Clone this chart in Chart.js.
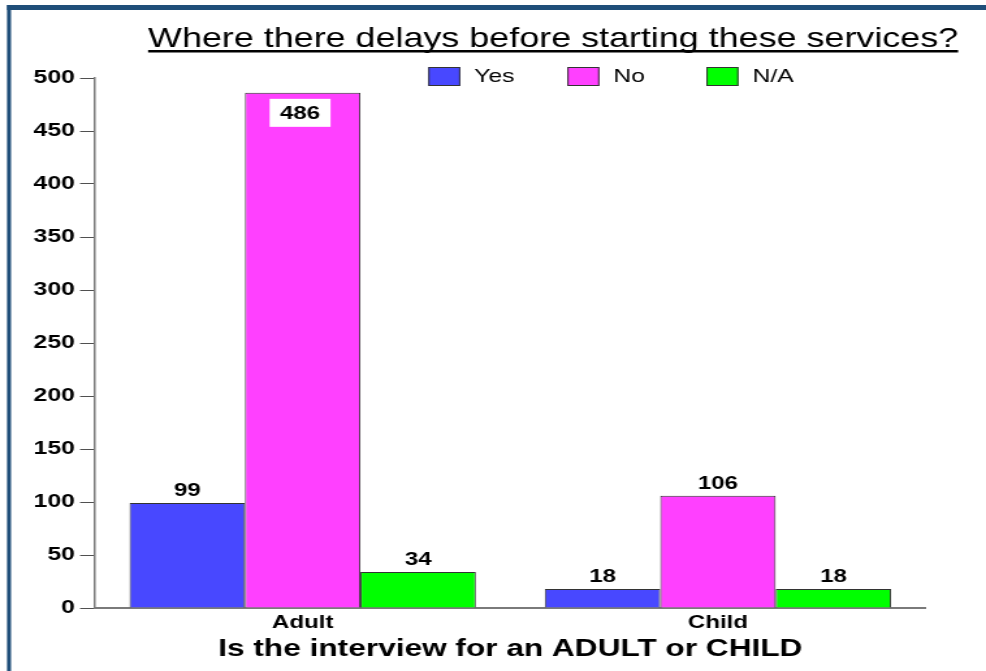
<!DOCTYPE html>
<html>
<head>
<meta charset="utf-8">
<script src="https://cdn.jsdelivr.net/npm/chart.js@4/dist/chart.umd.min.js"></script>
<style>
  html, body { margin: 0; padding: 0; background: #ffffff; }
  #wrap { position: relative; width: 986px; height: 671px; overflow: hidden; }
  #c { display: block; width: 986px; height: 671px; }
</style>
</head>
<body>
<div id="wrap"><canvas id="c" width="758" height="671" style="width:986px;height:671px"></canvas></div>
<script>
// ---- data ----
const categories = ['Adult', 'Child'];
const seriesNames = ['Yes', 'No', 'N/A'];
const yesValues = [99, 18];
const noValues = [486, 106];
const naValues = [34, 18];
const yTicks = [0, 50, 100, 150, 200, 250, 300, 350, 400, 450, 500];
const chartTitle = 'Where there delays before starting these services?';
const xTitle = 'Is the interview for an ADULT or CHILD';

// ---- styling ----
const S = 1.3; // horizontal stretch of the reference
const FONT = '"Liberation Sans", Arial, Helvetica, sans-serif';
const colors = ['#4848FF', '#FF40FF', '#00FF00'];

const framePlugin = {
  id: 'frame',
  beforeDraw(chart) {
    const ctx = chart.ctx;
    ctx.save();
    ctx.fillStyle = '#ffffff';
    ctx.fillRect(0, 0, chart.width, chart.height);
    ctx.fillStyle = '#1F4E79';
    ctx.fillRect(7 / S, 5, chart.width, 5);
    ctx.fillRect(7 / S, 5, 4 / S, chart.height);
    ctx.restore();
  }
};

const titlePlugin = {
  id: 'utitle',
  afterDraw(chart) {
    const ctx = chart.ctx;
    ctx.save();
    ctx.font = '27.6px ' + FONT;
    ctx.fillStyle = '#000';
    ctx.textAlign = 'left';
    ctx.textBaseline = 'alphabetic';
    const x = 148 / S;
    ctx.fillText(chartTitle, x, 47);
    const w = ctx.measureText(chartTitle).width;
    ctx.fillRect(x, 50, w, 2.5);
    ctx.restore();
  }
};

const legendPlugin = {
  id: 'ulegend',
  afterDraw(chart) {
    const ctx = chart.ctx;
    ctx.save();
    ctx.font = '19px ' + FONT;
    ctx.textBaseline = 'middle';
    ctx.textAlign = 'left';
    chart.data.datasets.forEach((ds, i) => {
      const bx = 428 / S + i * 139 / S;
      ctx.fillStyle = ds.backgroundColor;
      ctx.fillRect(bx, 67, 32 / S, 19);
      ctx.strokeStyle = '#333333';
      ctx.lineWidth = 1;
      ctx.strokeRect(bx + 0.5, 67.5, 32 / S - 1, 18);
      ctx.fillStyle = '#000';
      ctx.fillText(ds.label, bx + 46 / S, 77);
    });
    ctx.restore();
  }
};

const labelPlugin = {
  id: 'vlabels',
  afterDatasetsDraw(chart) {
    const ctx = chart.ctx;
    const area = chart.chartArea;
    ctx.save();
    ctx.font = 'bold 18.5px ' + FONT;
    ctx.textAlign = 'center';
    chart.data.datasets.forEach((ds, di) => {
      const meta = chart.getDatasetMeta(di);
      meta.data.forEach((bar, i) => {
        const txt = String(ds.data[i]);
        if (bar.y - 30 < area.top) {
          const w = ctx.measureText(txt).width + 16;
          ctx.fillStyle = '#ffffff';
          ctx.fillRect(bar.x - w / 2 - 2, bar.y + 6, w, 28);
          ctx.fillStyle = '#000';
          ctx.textBaseline = 'middle';
          ctx.fillText(txt, bar.x - 2, bar.y + 21);
        } else {
          ctx.fillStyle = '#000';
          ctx.textBaseline = 'alphabetic';
          ctx.fillText(txt, bar.x, bar.y - 7);
        }
      });
    });
    ctx.restore();
  }
};

const valueLists = [yesValues, noValues, naValues];
const datasets = seriesNames.map((name, i) => ({
  label: name,
  data: valueLists[i],
  backgroundColor: colors[i],
  borderColor: '#333333',
  borderWidth: 1,
  barPercentage: 1.0,
  categoryPercentage: 0.834
}));

new Chart(document.getElementById('c'), {
  type: 'bar',
  data: { labels: categories, datasets },
  plugins: [framePlugin, titlePlugin, legendPlugin, labelPlugin],
  options: {
    responsive: false,
    animation: false,
    devicePixelRatio: 1,
    layout: { padding: { top: 78, right: 758 - 925 / S, bottom: 0, left: 0 } },
    plugins: { legend: { display: false }, title: { display: false }, tooltip: { enabled: false } },
    scales: {
      x: {
        grid: { display: false, drawTicks: false },
        border: { display: true, color: '#7a7a7a', width: 2 },
        ticks: { color: '#000', font: { family: FONT, size: 18.5, weight: 'bold' }, padding: 4 },
        title: { display: true, text: xTitle, color: '#000', font: { family: FONT, size: 24.3, weight: 'bold' }, padding: { top: 0, bottom: 7 } },
        afterFit(scale) { scale.height = 63; }
      },
      y: {
        min: 0, max: 500,
        afterBuildTicks(scale) { scale.ticks = yTicks.map(v => ({ value: v })); },
        grid: { display: true, drawOnChartArea: false, drawTicks: true, tickLength: 15 / S, color: '#505050', lineWidth: 1 },
        border: { display: true, color: '#7a7a7a', width: 1.5 },
        ticks: { color: '#000', font: { family: FONT, size: 19, weight: 'bold' }, padding: 4 },
        afterFit(scale) { scale.width = 95 / S; }
      }
    }
  }
});
</script>
</body>
</html>
